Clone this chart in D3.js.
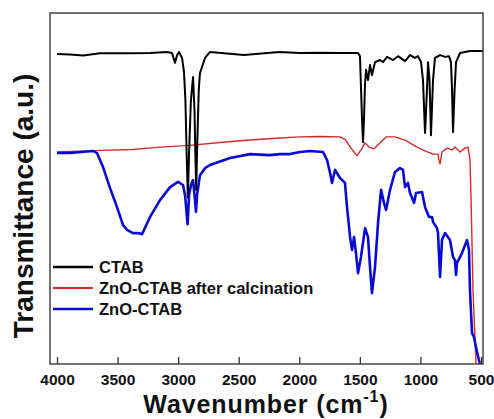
<!DOCTYPE html>
<html>
<head>
<meta charset="utf-8">
<script src="https://cdn.jsdelivr.net/npm/d3@7"></script>
<style>
html,body{margin:0;padding:0;background:#fff;}
svg{display:block;font-family:"Liberation Sans",Arial,sans-serif;}
</style>
</head>
<body>
<svg id="chart" width="494" height="419"></svg>
<script>
// ---- data: [wavenumber (cm-1), transmittance (a.u.)] ----
const ctab = [[4000,88.3],[3893,88.2],[3785,87.9],[3645,88.5],[3397,88.5],[3232,88.6],[3092,88.9],[3051,88.6],[3026,85.8],[3009,88.0],[2993,88.9],[2968,87.2],[2952,83.2],[2940,75],[2930,60],[2920,47.5],[2910,60],[2895,75],[2877,81.8],[2865,72],[2858,60],[2851,49.6],[2843,62],[2830,78],[2820,82.9],[2778,87.2],[2737,88.9],[2456,88.0],[2167,88.9],[1994,88.6],[1829,88.7],[1664,88.6],[1515,88.6],[1499,87.7],[1490,78.1],[1482,69.5],[1474,63.2],[1466,69.5],[1458,79.5],[1449,83.8],[1433,80.9],[1416,85.2],[1400,82.3],[1375,86.0],[1334,86.6],[1309,86.0],[1276,87.5],[1226,86.6],[1185,87.7],[1127,86.3],[1086,88.0],[1045,87.2],[1020,87.7],[995,86.0],[979,80.9],[962,65.8],[946,78.1],[937,86.0],[925,80.9],[913,65.2],[896,80.9],[880,87.2],[838,88.0],[797,87.5],[764,87.7],[748,86.0],[739,78.1],[731,66.1],[718,78.1],[706,86.0],[673,88.6],[591,89.2],[484,89.2]];

const znoCalc = [[4000,60.4],[3703,60.8],[3373,61.1],[3150,61.8],[2902,62.3],[2654,63.1],[2407,63.8],[2159,64.4],[1994,64.7],[1829,64.8],[1664,64.7],[1623,64.0],[1573,61.5],[1524,59.3],[1491,61.0],[1457,63.0],[1424,61.8],[1383,61.3],[1342,62.7],[1284,64.7],[1210,64.7],[1127,63.8],[1028,61.8],[962,60.7],[896,59.8],[855,59.8],[847,58.1],[838,57.0],[830,58.7],[822,60.4],[781,61.5],[739,61.0],[715,61.8],[673,60.4],[632,61.5],[607,61.8],[591,58.1],[582,46.7],[566,21.1],[541,0],[530,-5]];

const znoCtab = [[4000,60.1],[3893,60.1],[3703,60.7],[3670,60.1],[3620,56.1],[3562,50.1],[3505,44.7],[3455,39.6],[3422,38.2],[3373,37.3],[3331,37.3],[3298,37.0],[3232,41.9],[3150,46.7],[3067,50.4],[3001,51.9],[2960,51.0],[2943,48.1],[2922,39.8],[2910,48.1],[2894,51.0],[2877,52.4],[2861,46.7],[2853,43.3],[2844,48.1],[2820,53.8],[2778,55.8],[2737,56.7],[2572,58.7],[2407,59.8],[2242,59.5],[2159,59.8],[2077,59.8],[1994,60.4],[1911,60.7],[1804,60.4],[1771,58.1],[1746,54.4],[1730,51.6],[1705,55.3],[1664,53.0],[1623,51.6],[1606,44.7],[1581,36.2],[1565,32.5],[1548,36.2],[1532,31.6],[1515,25.9],[1491,30.5],[1457,38.7],[1433,36.2],[1416,27.6],[1400,20.2],[1375,27.6],[1350,40.2],[1325,49.6],[1301,45.9],[1284,43.9],[1251,49.6],[1210,54.7],[1169,55.8],[1144,55.3],[1127,50.4],[1103,51.6],[1086,48.7],[1069,47.3],[1053,45.9],[1036,48.7],[987,49.0],[962,44.7],[946,43.3],[929,41.9],[904,41.9],[896,40.5],[863,38.7],[855,37.3],[838,24.8],[822,35.3],[797,37.3],[756,35.3],[731,30.5],[715,29.6],[706,25.4],[698,28.8],[657,31.6],[616,35.3],[599,32.5],[591,21.1],[574,8.8],[558,7.7],[541,4.8],[508,-0.3],[492,-2.3]];

const xTicks = [4000, 3500, 3000, 2500, 2000, 1500, 1000, 500];
const seriesNames = ["CTAB", "ZnO-CTAB after calcination", "ZnO-CTAB"];
const seriesColors = ["#000000", "#d42a2a", "#0a0ad0"];
const seriesWidths = [2, 1.4, 2.6];

// ---- layout ----
const svg = d3.select("#chart");
const m = {left: 50, top: 13, right: 483, bottom: 364};

const x = d3.scaleLinear().domain([4058, 483.5]).range([m.left, m.right]);
const y = d3.scaleLinear().domain([0, 100]).range([m.bottom, m.top]);

svg.append("defs").append("clipPath").attr("id", "clip")
  .append("rect").attr("x", m.left).attr("y", m.top)
  .attr("width", m.right - m.left).attr("height", m.bottom - m.top);

const line = d3.line().x(d => x(d[0])).y(d => y(d[1]));

const all = [ctab, znoCalc, znoCtab];
const g = svg.append("g").attr("clip-path", "url(#clip)");
[1, 2, 0].forEach(i => {
  g.append("path").datum(all[i])
    .attr("fill", "none")
    .attr("stroke", seriesColors[i])
    .attr("stroke-width", seriesWidths[i])
    .attr("stroke-linejoin", "round")
    .attr("d", line);
});

// frame
svg.append("rect").attr("x", m.left).attr("y", m.top)
  .attr("width", m.right - m.left).attr("height", m.bottom - m.top)
  .attr("fill", "none").attr("stroke", "#444").attr("stroke-width", 1.5);

// bottom axis with inward ticks
const xAxis = d3.axisBottom(x).tickValues(xTicks).tickFormat(d3.format("d"))
  .tickSizeInner(-7).tickSizeOuter(0).tickPadding(10);
const ax = svg.append("g").attr("transform", `translate(0,${m.bottom})`).call(xAxis);
ax.select(".domain").remove();
ax.selectAll(".tick line").attr("stroke", "#333").attr("stroke-width", 1.3);
ax.selectAll(".tick text").attr("fill", "#111")
  .style("font-size", "15.5px").style("font-weight", "bold")
  .style("font-family", "'Liberation Sans', Arial, sans-serif");

// x title
const xt = svg.append("text").attr("x", 266).attr("y", 413)
  .attr("text-anchor", "middle").attr("fill", "#111")
  .style("font-size", "25px").style("font-weight", "bold")
  .style("letter-spacing", "0.9px");
xt.append("tspan").text("Wavenumber (cm");
xt.append("tspan").attr("dy", -11).style("font-size", "16px").text("-1");
xt.append("tspan").attr("dy", 11).text(")");

// y title
svg.append("text")
  .attr("transform", `translate(33,206) rotate(-90)`)
  .attr("text-anchor", "middle").attr("fill", "#111")
  .style("font-size", "28px").style("font-weight", "bold")
  .text("Transmittance (a.u.)");

// legend
const lg = svg.append("g");
seriesNames.forEach((name, i) => {
  const yy = 267 + i * 21;
  lg.append("line").attr("x1", 53).attr("x2", 93).attr("y1", yy).attr("y2", yy)
    .attr("stroke", seriesColors[i]).attr("stroke-width", i === 1 ? 2 : 2.6);
  lg.append("text").attr("x", 99).attr("y", yy + 6).attr("fill", "#111")
    .style("font-size", "16.5px").style("font-weight", "bold").text(name);
});
</script>
</body>
</html>
